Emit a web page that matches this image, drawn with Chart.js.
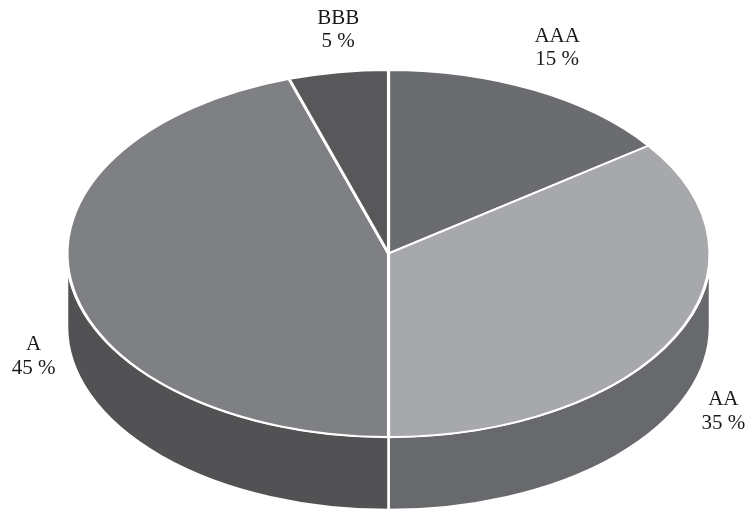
<!DOCTYPE html>
<html>
<head>
<meta charset="utf-8">
<script src="https://cdn.jsdelivr.net/npm/chart.js@4.4.1/dist/chart.umd.min.js"></script>
<style>
  html, body { margin: 0; padding: 0; background: #fff; }
</style>
</head>
<body>
<canvas id="pieChart" width="754" height="513"></canvas>
<script>
const ratings = ['AAA', 'AA', 'A', 'BBB'];
const shares = [15, 35, 45, 5];
const topColors = ['#6b6c6f', '#a7a8ab', '#7f8083', '#58585b'];
const sideColors = ['#58595c', '#68696c', '#525254', '#48484a'];

// top face ellipse and wall height (px)
const cx = 388.5, cy = 253.5, rx = 321.5, ry = 183.5, depth = 73;
const labelFont = '21px "Liberation Serif", "Times New Roman", serif';
const lineH = 23.5;
const capH = 14;

// half width of the whole 3d shape at row y
function halfWidthAt(y) {
    if (y >= cy && y <= cy + depth) return rx;
    const t = y < cy ? (y - cy) / ry : (y - cy - depth) / ry;
    if (Math.abs(t) >= 1) return 0;
    return rx * Math.sqrt(1 - t * t);
}

const pie3d = {
    id: 'pie3d',
    beforeDatasetsDraw(chart) {
        const ctx = chart.ctx;
        const arcs = chart.getDatasetMeta(0).data;

        // side walls: only the front half (angles 0..PI) is visible
        ctx.save();
        arcs.forEach((arc, i) => {
            [[0, Math.PI], [2 * Math.PI, 3 * Math.PI], [-2 * Math.PI, -Math.PI]].forEach(([lo, hi]) => {
                const a1 = Math.max(arc.startAngle, lo);
                const a2 = Math.min(arc.endAngle, hi);
                if (a2 <= a1) return;
                ctx.beginPath();
                ctx.ellipse(cx, cy, rx, ry, 0, a1, a2);
                ctx.ellipse(cx, cy + depth, rx, ry, 0, a2, a1, true);
                ctx.closePath();
                ctx.fillStyle = sideColors[i];
                ctx.fill();
                ctx.lineWidth = 2.5;
                ctx.strokeStyle = '#ffffff';
                ctx.stroke();
            });
        });
        ctx.restore();

        // squash the flat pie onto the top ellipse
        const a = arcs[0];
        const sx = rx / a.outerRadius, sy = ry / a.outerRadius;
        ctx.save();
        ctx.setTransform(sx, 0, 0, sy, cx - a.x * sx, cy - a.y * sy);
    },
    afterDatasetsDraw(chart) {
        const ctx = chart.ctx;
        ctx.restore();

        const arcs = chart.getDatasetMeta(0).data;
        ctx.save();
        ctx.font = labelFont;
        ctx.fillStyle = '#1a1a1a';
        ctx.textAlign = 'center';
        ctx.textBaseline = 'alphabetic';
        const boxH = capH + lineH;
        arcs.forEach((arc, i) => {
            const mid = (arc.startAngle + arc.endAngle) / 2;
            const px = cx + rx * Math.cos(mid);
            const py = cy + ry * Math.sin(mid);
            const lines = [ratings[i], shares[i] + ' %'];
            const w = Math.max(...lines.map(s => ctx.measureText(s).width));
            let midX, top;
            if (Math.sin(mid) < 0) {
                // upper half: label sits above the rim
                top = py - 25 - boxH;
                const c = Math.cos(mid);
                midX = Math.abs(c) < 0.3 ? px : px + Math.sign(c) * w / 2;
            } else {
                // lower half: label beside the wall
                top = py + depth - boxH / 2;
                let hw = Math.max(halfWidthAt(top), halfWidthAt(top + boxH));
                if (top < cy + depth && top + boxH > cy) hw = rx;
                midX = Math.cos(mid) >= 0 ? cx + hw + 12 + w / 2 : cx - hw - 12 - w / 2;
            }
            ctx.fillText(lines[0], midX, top + capH);
            ctx.fillText(lines[1], midX, top + capH + lineH);
        });
        ctx.restore();
    }
};

const ctx = document.getElementById('pieChart').getContext('2d');
window.pieChart = new Chart(ctx, {
    type: 'pie',
    data: {
        labels: ratings,
        datasets: [{
            data: shares,
            backgroundColor: topColors,
            borderColor: '#ffffff',
            borderWidth: 2.5,
            clip: false
        }]
    },
    options: {
        responsive: false,
        animation: false,
        events: [],
        plugins: {
            legend: { display: false },
            tooltip: { enabled: false }
        }
    },
    plugins: [pie3d]
});
</script>
</body>
</html>
